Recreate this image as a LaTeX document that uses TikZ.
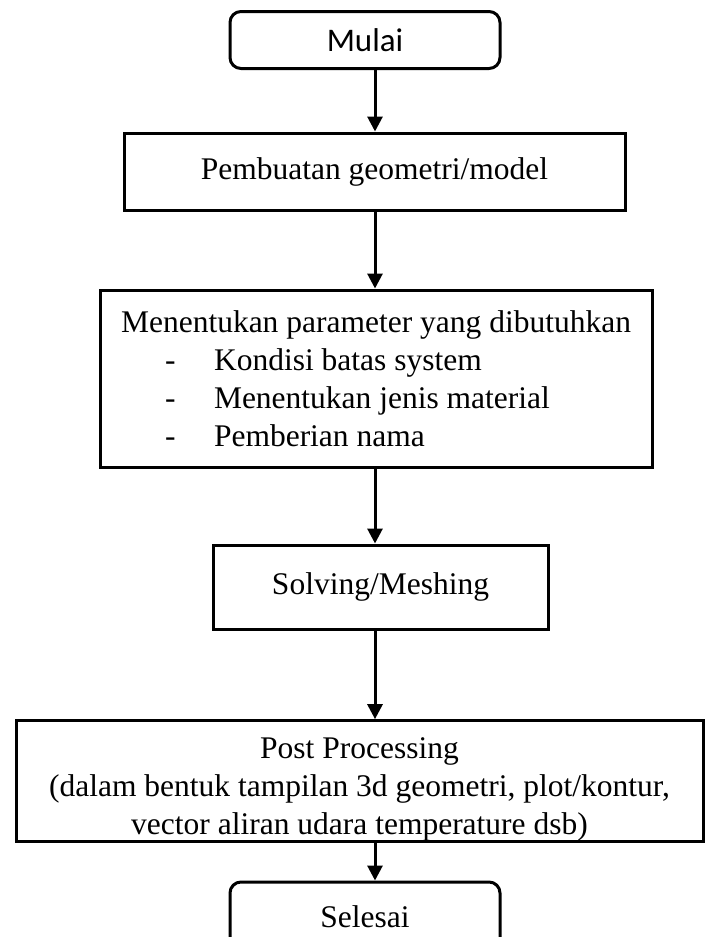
\documentclass[tikz,border=0pt]{standalone}
\usepackage{fontspec}
\setmainfont{Liberation Serif}
\newfontfamily\calibri{Carlito}
\usetikzlibrary{arrows.meta}
\begin{document}
\begin{tikzpicture}[x=1pt,y=-1pt,
  box/.style={draw=black, line width=3pt, inner sep=0pt, text=black,
    font=\fontsize{31.5}{38}\selectfont},
  term/.style={box, rounded corners=11pt},
  flow/.style={line width=3pt, draw=black, -{Triangle[length=15pt,width=15pt]}}]
\useasboundingbox (0,0) rectangle (723,937);
\coordinate (ax) at (375,0);
\node[term, minimum width=270pt, minimum height=57pt,
  font=\calibri\fontsize{33}{38}\selectfont] (mulai) at (365,40) {Mulai};
\node[box, minimum width=501pt, minimum height=77pt] (pemb) at (374.5,171.5)
  {Pembuatan geometri/model};
\node[box, minimum width=552pt, minimum height=177pt, align=left] (param) at (376,378.5)
  {Menentukan parameter yang dibutuhkan\\
   \makebox[93pt][l]{\hspace*{44pt}-}Kondisi batas system\\
   \makebox[93pt][l]{\hspace*{44pt}-}Menentukan jenis material\\
   \makebox[93pt][l]{\hspace*{44pt}-}Pemberian nama};
\node[box, minimum width=335pt, minimum height=84pt] (solve) at (380.5,587)
  {Solving/Meshing};
\node[box, minimum width=687pt, minimum height=118pt, align=center] (post) at (359.5,781)
  {\rule{0pt}{38pt}Post Processing\\
   (dalam bentuk tampilan 3d geometri, plot/kontur,\\
   vector aliran udara temperature dsb)};
\node[term, minimum width=270pt, minimum height=70pt] (selesai) at (365,917)
  {Selesai};
\draw[flow] (mulai.south -| ax) -- (pemb.north -| ax);
\draw[flow] (pemb.south -| ax) -- (param.north -| ax);
\draw[flow] (param.south -| ax) -- (solve.north -| ax);
\draw[flow] (solve.south -| ax) -- (post.north -| ax);
\draw[flow] (post.south -| ax) -- (selesai.north -| ax);
\end{tikzpicture}
\end{document}
